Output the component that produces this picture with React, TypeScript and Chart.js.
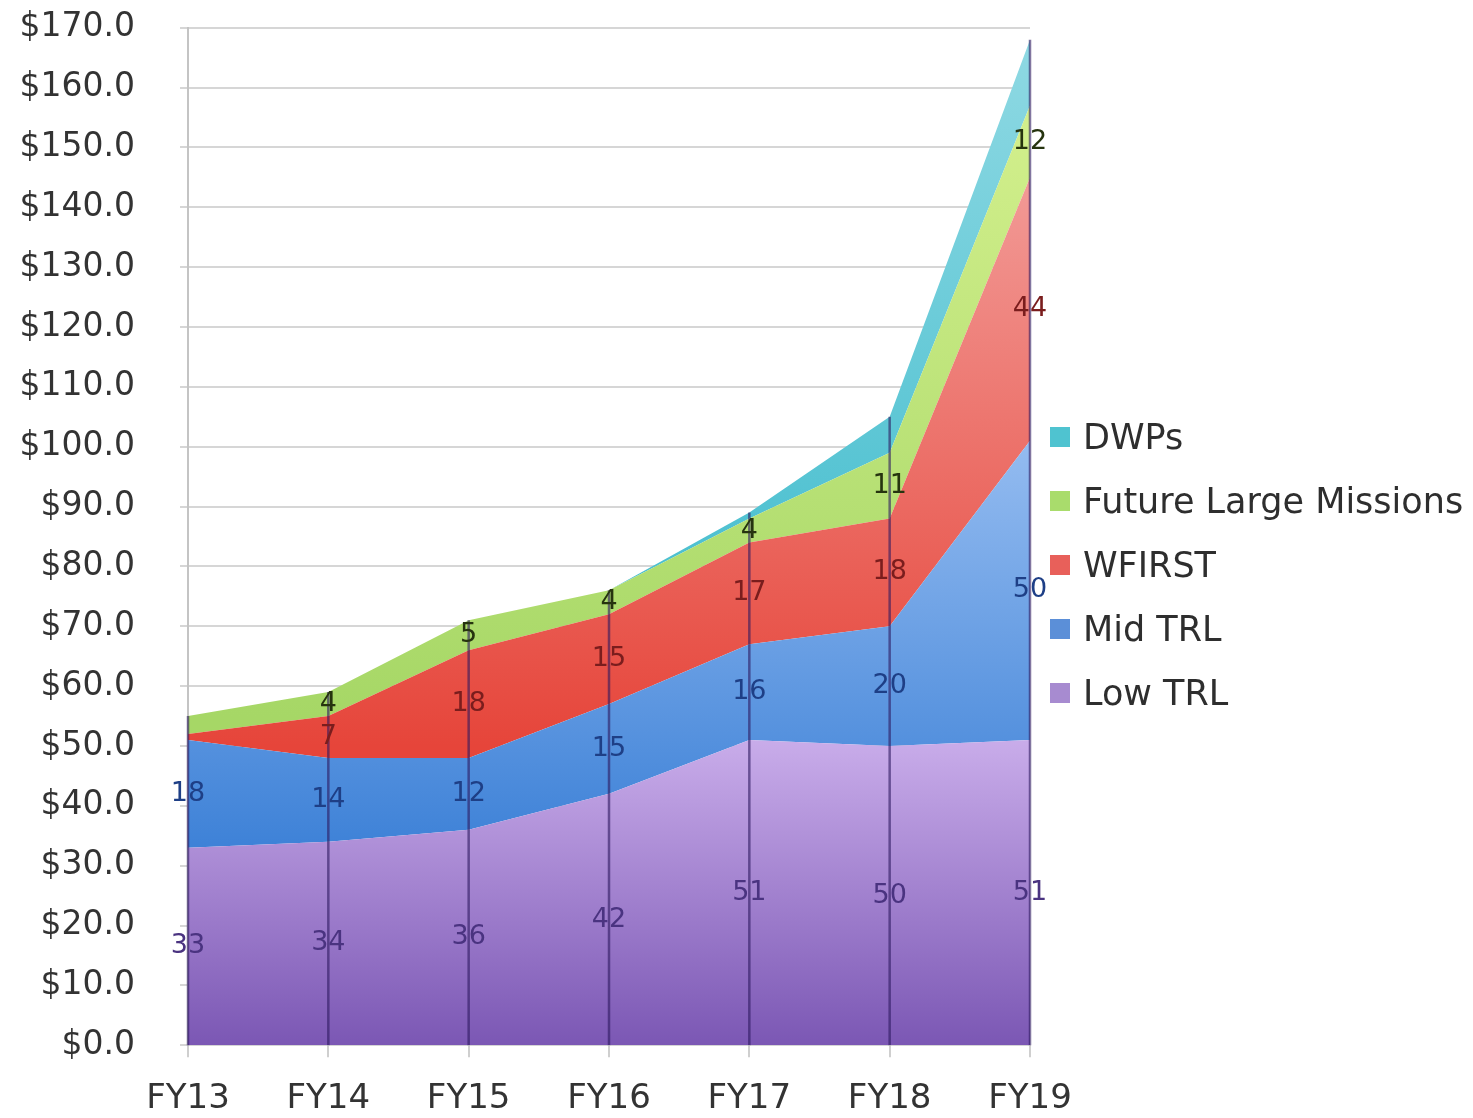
import React, { useEffect, useRef } from 'react';
import { Chart, registerables } from 'chart.js';

Chart.register(...registerables);

const categories = ['FY13', 'FY14', 'FY15', 'FY16', 'FY17', 'FY18', 'FY19'];
const lowTRL = [33, 34, 36, 42, 51, 50, 51];
const midTRL = [18, 14, 12, 15, 16, 20, 50];
const wfirst = [1, 7, 18, 15, 17, 18, 44];
const futureLarge = [3, 4, 5, 4, 4, 11, 12];
const dwps = [0, 0, 0, 0, 1, 6, 11];
const seriesNames = ['Low TRL', 'Mid TRL', 'WFIRST', 'Future Large Missions', 'DWPs'];
const yMin = 0;
const yMax = 170;
const yStep = 10;

const FONT = "'DejaVu Sans', sans-serif";

type GradSpec = { from: number; to: number; low: string; high: string; solid: string; label: string | null };

const styles: GradSpec[] = [
  { from: 0, to: 55, low: '#7b57b4', high: '#cfb3ee', solid: '#a78bd0', label: '#4a3380' },
  { from: 30, to: 100, low: '#3a7fd6', high: '#93bbf0', solid: '#5b8fd8', label: '#1e3f86' },
  { from: 50, to: 145, low: '#e6453a', high: '#f29a96', solid: '#e8605a', label: '#7a1d1d' },
  { from: 55, to: 155, low: '#a6d766', high: '#d2ef8c', solid: '#a9dc6c', label: '#26340f' },
  { from: 80, to: 168, low: '#4cc0d0', high: '#8fd9e3', solid: '#4fc3d0', label: null },
];

const CANVAS_TOP = -37;
const CANVAS_H = 1179;

export default function App() {
  const canvasRef = useRef<HTMLCanvasElement | null>(null);

  useEffect(() => {
    document.body.style.margin = '0';
    const canvas = canvasRef.current;
    if (!canvas) return;
    const seriesValues = [lowTRL, midTRL, wfirst, futureLarge, dwps];

    const makeBg = (s: GradSpec) => (ctx: any) => {
      const chart = ctx.chart;
      if (!chart.chartArea || !chart.scales.y) return s.solid;
      const ys = chart.scales.y;
      const g = chart.ctx.createLinearGradient(0, ys.getPixelForValue(s.from), 0, ys.getPixelForValue(s.to));
      g.addColorStop(0, s.low);
      g.addColorStop(1, s.high);
      return g;
    };

    const dropLines = {
      id: 'dropLines',
      afterDatasetsDraw(chart: any) {
        const { ctx, chartArea } = chart;
        const xs = chart.scales.x;
        const last = chart.getDatasetMeta(chart.data.datasets.length - 1);
        ctx.save();
        ctx.strokeStyle = 'rgba(45,25,95,0.6)';
        ctx.lineWidth = 2.5;
        categories.forEach((_, i) => {
          const x = xs.getPixelForValue(i);
          const top = last.data[i].y;
          ctx.beginPath();
          ctx.moveTo(x, top);
          ctx.lineTo(x, chartArea.bottom);
          ctx.stroke();
        });
        ctx.restore();
      },
    };

    const dataLabels = {
      id: 'dataLabels',
      afterDatasetsDraw(chart: any) {
        const { ctx } = chart;
        const ys = chart.scales.y;
        ctx.save();
        ctx.font = `27px ${FONT}`;
        ctx.textAlign = 'center';
        ctx.textBaseline = 'middle';
        chart.data.datasets.forEach((ds: any, di: number) => {
          const color = styles[di].label;
          if (!color) return;
          const meta = chart.getDatasetMeta(di);
          const below = di > 0 ? chart.getDatasetMeta(di - 1) : null;
          ds.data.forEach((v: number, i: number) => {
            if (v < 4) return;
            const yTop = meta.data[i].y;
            const yBot = below ? below.data[i].y : ys.getPixelForValue(0);
            const x = meta.data[i].x;
            ctx.fillStyle = color;
            ctx.fillText(String(v), x, (yTop + yBot) / 2);
          });
        });
        ctx.restore();
      },
    };

    const chart = new Chart(canvas, {
      type: 'line',
      data: {
        labels: categories,
        datasets: seriesNames.map((name, i) => ({
          label: name,
          data: seriesValues[i],
          fill: i === 0 ? 'origin' : '-1',
          backgroundColor: makeBg(styles[i]),
          borderWidth: 0,
          borderColor: 'rgba(0,0,0,0)',
          pointRadius: 0,
          tension: 0,
        })),
      },
      options: {
        animation: false,
        responsive: false,
        maintainAspectRatio: false,
        layout: { padding: { left: 0, top: 0, right: 443, bottom: 0 } },
        plugins: {
          legend: { display: false },
          tooltip: { enabled: false },
        },
        scales: {
          x: {
            offset: false,
            grid: { drawOnChartArea: false, drawTicks: true, tickLength: 12, color: '#cfcfcf', lineWidth: 2 },
            border: { display: false },
            ticks: { padding: 22, color: '#333', font: { family: FONT, size: 34 } },
          },
          y: {
            stacked: true,
            min: yMin,
            max: yMax,
            afterFit: (scale: any) => {
              scale.width = 188;
            },
            grid: { color: '#d6d6d6', lineWidth: 2, tickLength: 8 },
            border: { display: true, color: '#c4c4c4', width: 2 },
            ticks: {
              stepSize: yStep,
              padding: 45,
              color: '#333',
              font: { family: FONT, size: 33 },
              callback: (v: any) => '$' + Number(v).toFixed(1),
            },
          },
        },
      },
      plugins: [dropLines, dataLabels],
    });
    return () => chart.destroy();
  }, []);

  const legendItems = seriesNames.map((n, i) => ({ name: n, color: styles[i].solid })).reverse();

  return (
    <div style={{ position: 'relative', width: 1473, height: 1118, background: '#fff', overflow: 'hidden' }}>
      <canvas
        ref={canvasRef}
        width={1473}
        height={CANVAS_H}
        style={{ position: 'absolute', left: 0, top: CANVAS_TOP, display: 'block', width: 1473, height: CANVAS_H }}
      />
      <div style={{ position: 'absolute', left: 1050, top: 405, fontFamily: FONT, fontSize: 35, color: '#2e2e2e', whiteSpace: 'nowrap' }}>
        {legendItems.map((it) => (
          <div key={it.name} style={{ display: 'flex', alignItems: 'center', height: 64 }}>
            <span style={{ display: 'inline-block', width: 20, height: 20, background: it.color, marginRight: 13 }} />
            <span>{it.name}</span>
          </div>
        ))}
      </div>
    </div>
  );
}
